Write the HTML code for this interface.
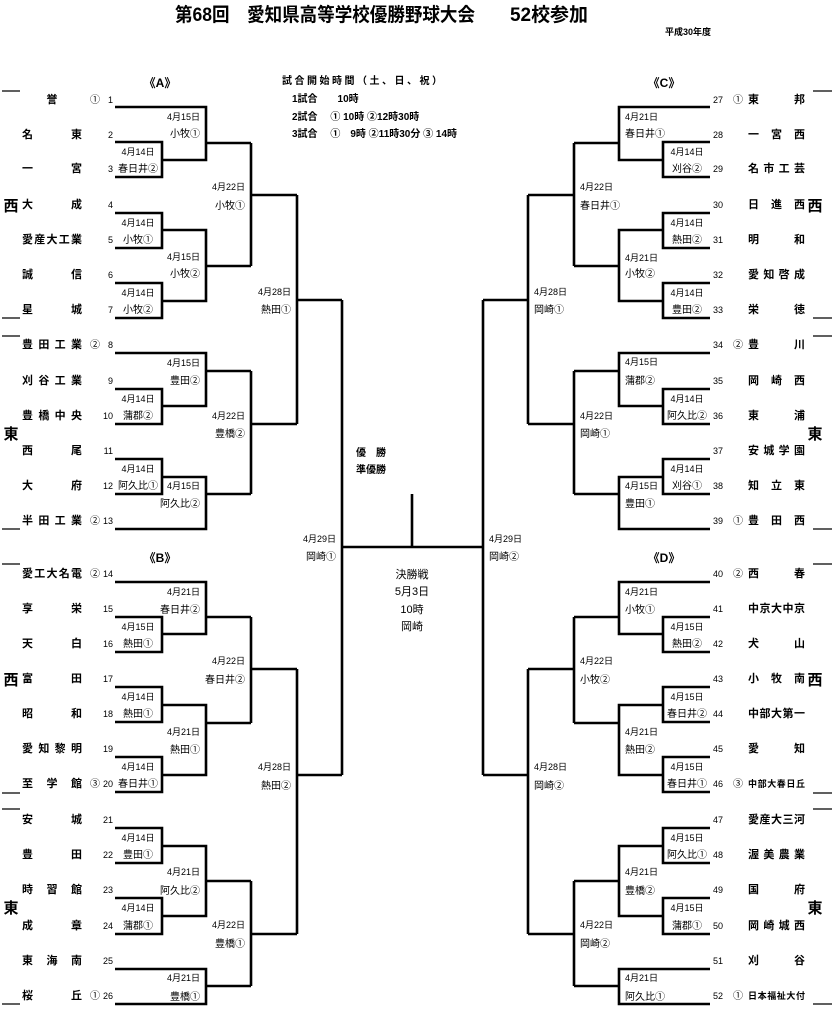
<!DOCTYPE html>
<html><head><meta charset="utf-8"><style>
html,body{margin:0;padding:0;background:#fff;}
svg{display:block;font-family:"Liberation Sans","Noto Sans CJK JP",sans-serif;}
.t{font-size:11px;font-weight:bold;}
.n{font-size:9px;}
.s{font-size:10px;}
.d{font-size:9px;}
.l{font-size:10px;}
.sec{font-size:15px;font-weight:bold;}
</style></head><body>
<svg width="836" height="1024" viewBox="0 0 836 1024" xmlns="http://www.w3.org/2000/svg">
<defs>
<path id="br" fill="none" stroke="#000" stroke-width="2.6" d="
M115 107H206V160H162 M115 142H162V177H115 M206 143H251
M115 213H162V248H115 M162 230H206V301H162 M115 283H162V318H115 M206 266H251
M251 143V266 M251 195H297
M115 353H206V406H162 M115 389H162V424H115 M206 371H251
M115 459H162V494H115 M162 477H206V529H115 M206 494H251
M251 371V494 M251 424H297
M297 195V424 M297 300H342
M115 582H206V634H162 M115 617H162V652H115 M206 617H251
M115 687H162V722H115 M162 705H206V775H162 M115 757H162V792H115 M206 723H251
M251 617V723 M251 669H297
M115 828H162V863H115 M162 846H206V916H162 M115 898H162V934H115 M206 881H251
M115 969H206V1004H115 M206 986H251
M251 881V986 M251 934H297
M297 669V934 M297 775H342
M342 300V775"/>
</defs>
<use href="#br"/>
<use href="#br" transform="translate(825,0) scale(-1,1)"/>
<path fill="none" stroke="#000" stroke-width="2.6" d="M342 547H483 M412 494V547"/>
<path fill="none" stroke="#000" stroke-width="1.2" d="M2 91H20 M2 318H20 M2 336H20 M2 529H20 M2 564H20 M2 793H20 M2 809H20 M2 1004H20 M813 91H832 M813 318H832 M813 336H832 M813 529H832 M813 564H832 M813 793H832 M813 809H832 M813 1004H832"/>

<!-- header -->
<text x="175" y="21" font-size="19" font-weight="bold" textLength="300" lengthAdjust="spacingAndGlyphs">第68回　愛知県高等学校優勝野球大会</text>
<text x="510" y="21" font-size="19" font-weight="bold" textLength="78" lengthAdjust="spacingAndGlyphs">52校参加</text>
<text x="665" y="35" font-size="9" font-weight="bold">平成30年度</text>
<text x="282" y="84" class="s" font-weight="bold" textLength="160" lengthAdjust="spacing">試合開始時間（土、日、祝）</text>
<text x="292" y="102" class="s" font-weight="bold">1試合　　10時</text>
<text x="292" y="120" class="s" font-weight="bold">2試合　 ①  10時  ②12時30時</text>
<text x="292" y="137" class="s" font-weight="bold">3試合　 ①　9時  ②11時30分  ③  14時</text>
<text x="160" y="87" font-size="12" font-weight="bold" text-anchor="middle">《A》</text>
<text x="664" y="87" font-size="12" font-weight="bold" text-anchor="middle">《C》</text>
<text x="160" y="562" font-size="12" font-weight="bold" text-anchor="middle">《B》</text>
<text x="664" y="562" font-size="12" font-weight="bold" text-anchor="middle">《D》</text>

<!-- section labels -->
<text x="11" y="211" class="sec" text-anchor="middle">西</text>
<text x="11" y="439" class="sec" text-anchor="middle">東</text>
<text x="11" y="685" class="sec" text-anchor="middle">西</text>
<text x="11" y="913" class="sec" text-anchor="middle">東</text>
<text x="815" y="211" class="sec" text-anchor="middle">西</text>
<text x="815" y="439" class="sec" text-anchor="middle">東</text>
<text x="815" y="685" class="sec" text-anchor="middle">西</text>
<text x="815" y="913" class="sec" text-anchor="middle">東</text>

<!-- left team names -->
<g class="t">
<text x="52" y="103" text-anchor="middle">誉</text>
<text x="22" y="138" textLength="60" lengthAdjust="spacing">名東</text>
<text x="22" y="172" textLength="60" lengthAdjust="spacing">一宮</text>
<text x="22" y="208" textLength="60" lengthAdjust="spacing">大成</text>
<text x="22" y="243" textLength="60" lengthAdjust="spacing">愛産大工業</text>
<text x="22" y="278" textLength="60" lengthAdjust="spacing">誠信</text>
<text x="22" y="313" textLength="60" lengthAdjust="spacing">星城</text>
<text x="22" y="348" textLength="60" lengthAdjust="spacing">豊田工業</text>
<text x="22" y="384" textLength="60" lengthAdjust="spacing">刈谷工業</text>
<text x="22" y="419" textLength="60" lengthAdjust="spacing">豊橋中央</text>
<text x="22" y="454" textLength="60" lengthAdjust="spacing">西尾</text>
<text x="22" y="489" textLength="60" lengthAdjust="spacing">大府</text>
<text x="22" y="524" textLength="60" lengthAdjust="spacing">半田工業</text>
<text x="22" y="577" textLength="60" lengthAdjust="spacing">愛工大名電</text>
<text x="22" y="612" textLength="60" lengthAdjust="spacing">享栄</text>
<text x="22" y="647" textLength="60" lengthAdjust="spacing">天白</text>
<text x="22" y="682" textLength="60" lengthAdjust="spacing">富田</text>
<text x="22" y="717" textLength="60" lengthAdjust="spacing">昭和</text>
<text x="22" y="752" textLength="60" lengthAdjust="spacing">愛知黎明</text>
<text x="22" y="787" textLength="60" lengthAdjust="spacing">至学館</text>
<text x="22" y="823" textLength="60" lengthAdjust="spacing">安城</text>
<text x="22" y="858" textLength="60" lengthAdjust="spacing">豊田</text>
<text x="22" y="893" textLength="60" lengthAdjust="spacing">時習館</text>
<text x="22" y="929" textLength="60" lengthAdjust="spacing">成章</text>
<text x="22" y="964" textLength="60" lengthAdjust="spacing">東海南</text>
<text x="22" y="999" textLength="60" lengthAdjust="spacing">桜丘</text>
</g>
<g class="s" text-anchor="middle">
<text x="95" y="103">①</text><text x="95" y="348">②</text><text x="95" y="524">②</text>
<text x="95" y="577">②</text><text x="95" y="787">③</text><text x="95" y="999">①</text>
<text x="738" y="103">①</text><text x="738" y="348">②</text><text x="738" y="524">①</text>
<text x="738" y="577">②</text><text x="738" y="787">③</text><text x="738" y="999">①</text>
</g>
<g class="n" text-anchor="end">
<text x="113" y="103">1</text><text x="113" y="138">2</text><text x="113" y="172">3</text><text x="113" y="208">4</text><text x="113" y="243">5</text><text x="113" y="278">6</text><text x="113" y="313">7</text><text x="113" y="348">8</text><text x="113" y="384">9</text><text x="113" y="419">10</text><text x="113" y="454">11</text><text x="113" y="489">12</text><text x="113" y="524">13</text>
<text x="113" y="577">14</text><text x="113" y="612">15</text><text x="113" y="647">16</text><text x="113" y="682">17</text><text x="113" y="717">18</text><text x="113" y="752">19</text><text x="113" y="787">20</text><text x="113" y="823">21</text><text x="113" y="858">22</text><text x="113" y="893">23</text><text x="113" y="929">24</text><text x="113" y="964">25</text><text x="113" y="999">26</text>
</g>
<g class="n">
<text x="713" y="103">27</text><text x="713" y="138">28</text><text x="713" y="172">29</text><text x="713" y="208">30</text><text x="713" y="243">31</text><text x="713" y="278">32</text><text x="713" y="313">33</text><text x="713" y="348">34</text><text x="713" y="384">35</text><text x="713" y="419">36</text><text x="713" y="454">37</text><text x="713" y="489">38</text><text x="713" y="524">39</text>
<text x="713" y="577">40</text><text x="713" y="612">41</text><text x="713" y="647">42</text><text x="713" y="682">43</text><text x="713" y="717">44</text><text x="713" y="752">45</text><text x="713" y="787">46</text><text x="713" y="823">47</text><text x="713" y="858">48</text><text x="713" y="893">49</text><text x="713" y="929">50</text><text x="713" y="964">51</text><text x="713" y="999">52</text>
</g>
<!-- right team names -->
<g class="t">
<text x="748" y="103" textLength="57" lengthAdjust="spacing">東邦</text>
<text x="748" y="138" textLength="57" lengthAdjust="spacing">一宮西</text>
<text x="748" y="172" textLength="57" lengthAdjust="spacing">名市工芸</text>
<text x="748" y="208" textLength="57" lengthAdjust="spacing">日進西</text>
<text x="748" y="243" textLength="57" lengthAdjust="spacing">明和</text>
<text x="748" y="278" textLength="57" lengthAdjust="spacing">愛知啓成</text>
<text x="748" y="313" textLength="57" lengthAdjust="spacing">栄徳</text>
<text x="748" y="348" textLength="57" lengthAdjust="spacing">豊川</text>
<text x="748" y="384" textLength="57" lengthAdjust="spacing">岡崎西</text>
<text x="748" y="419" textLength="57" lengthAdjust="spacing">東浦</text>
<text x="748" y="454" textLength="57" lengthAdjust="spacing">安城学園</text>
<text x="748" y="489" textLength="57" lengthAdjust="spacing">知立東</text>
<text x="748" y="524" textLength="57" lengthAdjust="spacing">豊田西</text>
<text x="748" y="577" textLength="57" lengthAdjust="spacing">西春</text>
<text x="748" y="612" textLength="57" lengthAdjust="spacing">中京大中京</text>
<text x="748" y="647" textLength="57" lengthAdjust="spacing">犬山</text>
<text x="748" y="682" textLength="57" lengthAdjust="spacing">小牧南</text>
<text x="748" y="717" textLength="57" lengthAdjust="spacing">中部大第一</text>
<text x="748" y="752" textLength="57" lengthAdjust="spacing">愛知</text>
<text x="748" y="787" font-size="9" textLength="57" lengthAdjust="spacing">中部大春日丘</text>
<text x="748" y="823" textLength="57" lengthAdjust="spacing">愛産大三河</text>
<text x="748" y="858" textLength="57" lengthAdjust="spacing">渥美農業</text>
<text x="748" y="893" textLength="57" lengthAdjust="spacing">国府</text>
<text x="748" y="929" textLength="57" lengthAdjust="spacing">岡崎城西</text>
<text x="748" y="964" textLength="57" lengthAdjust="spacing">刈谷</text>
<text x="748" y="999" font-size="9" textLength="57" lengthAdjust="spacing">日本福祉大付</text>
</g>

<!-- round 1 box labels -->
<g text-anchor="middle">
<g class="d">
<text x="138" y="155">4月14日</text><text x="138" y="226">4月14日</text><text x="138" y="296">4月14日</text><text x="138" y="402">4月14日</text><text x="138" y="472">4月14日</text>
<text x="138" y="630">4月15日</text><text x="138" y="700">4月14日</text><text x="138" y="770">4月14日</text><text x="138" y="841">4月14日</text><text x="138" y="911">4月14日</text>
<text x="687" y="155">4月14日</text><text x="687" y="226">4月14日</text><text x="687" y="296">4月14日</text><text x="687" y="402">4月14日</text><text x="687" y="472">4月14日</text>
<text x="687" y="630">4月15日</text><text x="687" y="700">4月15日</text><text x="687" y="770">4月15日</text><text x="687" y="841">4月15日</text><text x="687" y="911">4月15日</text>
</g>
<g class="l">
<text x="138" y="172">春日井②</text><text x="138" y="243">小牧①</text><text x="138" y="313">小牧②</text><text x="138" y="419">蒲郡②</text><text x="138" y="489">阿久比①</text>
<text x="138" y="647">熱田①</text><text x="138" y="717">熱田①</text><text x="138" y="787">春日井①</text><text x="138" y="858">豊田①</text><text x="138" y="929">蒲郡①</text>
<text x="687" y="172">刈谷②</text><text x="687" y="243">熱田②</text><text x="687" y="313">豊田②</text><text x="687" y="419">阿久比②</text><text x="687" y="489">刈谷①</text>
<text x="687" y="647">熱田②</text><text x="687" y="717">春日井②</text><text x="687" y="787">春日井①</text><text x="687" y="858">阿久比①</text><text x="687" y="929">蒲郡①</text>
</g>
</g>

<!-- later round labels left -->
<g text-anchor="end">
<g class="d">
<text x="200" y="120">4月15日</text><text x="200" y="260">4月15日</text><text x="200" y="366">4月15日</text><text x="200" y="489">4月15日</text>
<text x="200" y="595">4月21日</text><text x="200" y="735">4月21日</text><text x="200" y="875">4月21日</text><text x="200" y="981">4月21日</text>
<text x="245" y="190">4月22日</text><text x="245" y="419">4月22日</text><text x="245" y="664">4月22日</text><text x="245" y="928">4月22日</text>
<text x="291" y="295">4月28日</text><text x="291" y="770">4月28日</text>
<text x="336" y="542">4月29日</text>
</g>
<g class="l">
<text x="200" y="137">小牧①</text><text x="200" y="277">小牧②</text><text x="200" y="384">豊田②</text><text x="200" y="507">阿久比②</text>
<text x="200" y="613">春日井②</text><text x="200" y="753">熱田①</text><text x="200" y="894">阿久比②</text><text x="200" y="1000">豊橋①</text>
<text x="245" y="209">小牧①</text><text x="245" y="437">豊橋②</text><text x="245" y="683">春日井②</text><text x="245" y="947">豊橋①</text>
<text x="291" y="313">熱田①</text><text x="291" y="789">熱田②</text>
<text x="336" y="560">岡崎①</text>
</g>
</g>
<!-- later round labels right -->
<g>
<g class="d">
<text x="625" y="120">4月21日</text><text x="625" y="261">4月21日</text><text x="625" y="365">4月15日</text><text x="625" y="489">4月15日</text>
<text x="625" y="595">4月21日</text><text x="625" y="735">4月21日</text><text x="625" y="875">4月21日</text><text x="625" y="981">4月21日</text>
<text x="580" y="190">4月22日</text><text x="580" y="419">4月22日</text><text x="580" y="664">4月22日</text><text x="580" y="928">4月22日</text>
<text x="534" y="295">4月28日</text><text x="534" y="770">4月28日</text>
<text x="489" y="542">4月29日</text>
</g>
<g class="l">
<text x="625" y="137">春日井①</text><text x="625" y="277">小牧②</text><text x="625" y="384">蒲郡②</text><text x="625" y="507">豊田①</text>
<text x="625" y="613">小牧①</text><text x="625" y="753">熱田②</text><text x="625" y="894">豊橋②</text><text x="625" y="1000">阿久比①</text>
<text x="580" y="209">春日井①</text><text x="580" y="437">岡崎①</text><text x="580" y="683">小牧②</text><text x="580" y="947">岡崎②</text>
<text x="534" y="313">岡崎①</text><text x="534" y="789">岡崎②</text>
<text x="489" y="560">岡崎②</text>
</g>
</g>

<!-- center -->
<text x="356" y="456" class="l" font-weight="bold">優　勝</text>
<text x="356" y="473" class="l" font-weight="bold">準優勝</text>
<g text-anchor="middle" font-size="11">
<text x="412" y="578">決勝戦</text>
<text x="412" y="595">5月3日</text>
<text x="412" y="613">10時</text>
<text x="412" y="630">岡崎</text>
</g>
</svg>
</body></html>
